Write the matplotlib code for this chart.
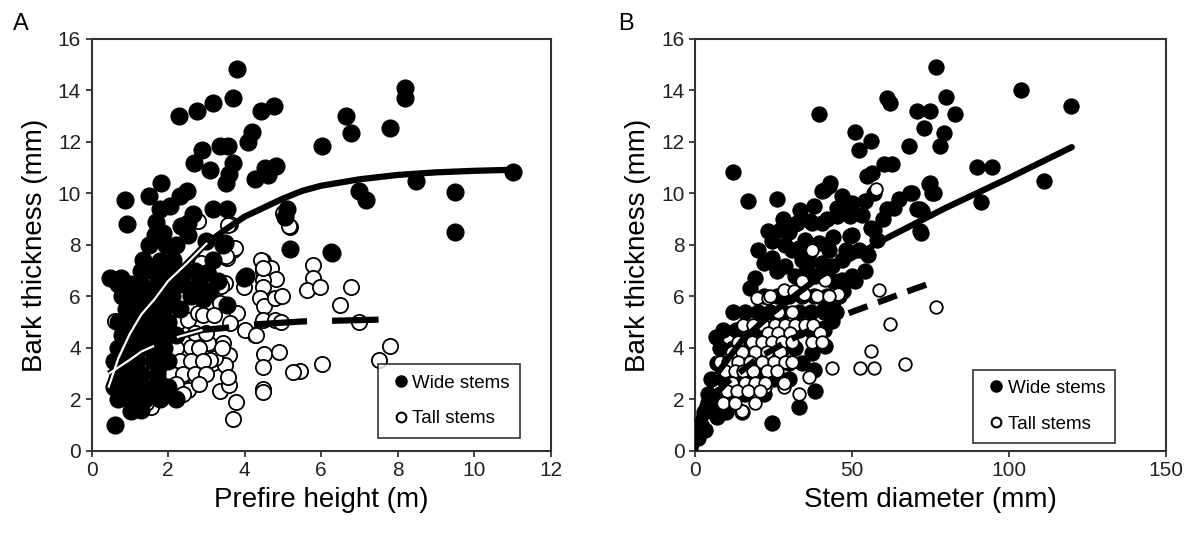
import numpy as np
import matplotlib
matplotlib.use('Agg')
import matplotlib.pyplot as plt
from matplotlib.lines import Line2D

plt.rcParams['font.family'] = ['Liberation Sans', 'DejaVu Sans']

# ---------------- Panel A: prefire height vs bark thickness ----------------
wide_a = np.array([
    [3.79, 14.85], [3.69, 13.7], [3.18, 13.5], [2.76, 13.2], [2.28, 13.0], [4.42, 13.2],
    [4.78, 13.4], [6.66, 13.0], [6.78, 12.35], [6.01, 11.85], [4.18, 12.4], [4.09, 12.0],
    [3.36, 11.85], [3.56, 11.85], [2.88, 11.7], [2.68, 11.2], [3.09, 10.9], [3.69, 11.2],
    [3.6, 10.75], [3.51, 10.4], [4.27, 10.55], [4.53, 11.0], [4.82, 11.05], [4.62, 10.7],
    [6.99, 10.1], [7.17, 9.75], [5.1, 9.4], [5.05, 9.1], [0.87, 9.75], [1.51, 9.9],
    [1.81, 10.4], [1.79, 9.4], [2.05, 9.5], [2.31, 9.9], [2.5, 10.1], [3.18, 9.4],
    [3.53, 9.4], [0.92, 8.8], [1.68, 8.9], [2.66, 9.2], [8.19, 14.1], [8.19, 13.7],
    [7.81, 12.55], [11.0, 10.85], [8.49, 10.5], [9.49, 10.05], [9.49, 8.5], [6.29, 7.7],
    [5.18, 7.85], [6.27, 7.72], [3.99, 6.72], [3.54, 5.68], [0.48, 6.7], [0.76, 6.7],
    [0.61, 1.0], [1.02, 1.55], [3.0, 8.15], [3.44, 8.0], [3.18, 7.43], [3.48, 8.08],
    [4.04, 6.79], [2.52, 8.86], [1.65, 8.4], [1.87, 8.47], [2.34, 8.73], [2.52, 8.4],
    [1.5, 8.0], [1.95, 8.0], [2.2, 8.0], [1.34, 7.43], [1.78, 7.37], [2.13, 7.43],
    [2.8, 6.5], [3.1, 6.2], [2.9, 5.9], [3.3, 6.6], [2.7, 7.0], [3.0, 6.9],
    [1.3, 7.0], [1.6, 7.0], [1.9, 7.0], [2.2, 7.0], [2.5, 7.0],
    [0.7, 6.5], [1.0, 6.5], [1.3, 6.5], [1.7, 6.5], [2.0, 6.5], [2.4, 6.5],
    [0.8, 6.0], [1.1, 6.0], [1.4, 6.0], [1.8, 6.0], [2.1, 6.0], [2.6, 6.0],
    [0.9, 5.5], [1.2, 5.5], [1.5, 5.5], [1.9, 5.5], [2.3, 5.5],
    [0.7, 5.0], [1.0, 5.0], [1.3, 5.0], [1.6, 5.0], [2.0, 5.0],
    [0.8, 4.5], [1.1, 4.5], [1.4, 4.5], [1.8, 4.5], [2.2, 4.5],
    [0.7, 4.0], [0.9, 4.0], [1.2, 4.0], [1.5, 4.0], [1.9, 4.0],
    [0.6, 3.5], [0.9, 3.5], [1.2, 3.5], [1.6, 3.5], [2.0, 3.5],
    [0.7, 3.0], [1.0, 3.0], [1.3, 3.0], [1.7, 3.0],
    [0.6, 2.5], [0.9, 2.5], [1.2, 2.5], [1.6, 2.5], [2.0, 2.5],
    [0.7, 2.0], [1.0, 2.0], [1.4, 2.0], [1.8, 2.0], [2.2, 2.0], [1.3, 1.6],
])

tall_a = np.array([
    [5.18, 8.7], [4.49, 7.39], [4.49, 6.98], [4.68, 7.11], [4.82, 6.68], [4.49, 6.65],
    [4.49, 6.37], [4.4, 5.94], [4.5, 5.64], [4.79, 5.94], [4.97, 6.0], [5.79, 7.24],
    [5.78, 6.72], [5.62, 6.24], [5.98, 6.37], [6.79, 6.37], [6.5, 5.68], [6.99, 4.99],
    [6.01, 3.39], [7.81, 4.06], [7.51, 3.54], [5.44, 3.09], [4.49, 5.07], [4.79, 5.07],
    [4.94, 4.99], [4.27, 4.51], [4.5, 3.77], [4.9, 3.86], [4.49, 3.28], [5.27, 3.05],
    [4.49, 2.4], [4.49, 2.3], [4.0, 4.7], [4.31, 4.51], [3.99, 6.37], [3.36, 5.75],
    [3.79, 5.36], [3.62, 4.97], [3.43, 4.19], [3.18, 3.41], [3.6, 3.74], [3.49, 3.35],
    [3.36, 2.31], [3.6, 2.57], [3.77, 1.92], [3.69, 1.23], [3.56, 2.89], [2.18, 2.05],
    [1.55, 1.72], [0.61, 5.03], [0.92, 5.1], [5.0, 9.25], [5.16, 8.75], [3.62, 8.8],
    [3.7, 7.82], [3.53, 7.5], [2.79, 8.92], [3.01, 6.91], [2.83, 7.3], [2.92, 6.65],
    [3.56, 8.79], [3.74, 7.89], [3.52, 7.56], [4.43, 7.43], [4.48, 7.11], [2.87, 7.3],
    [3.04, 6.91], [3.48, 6.52], [3.38, 6.4], [2.26, 5.0], [2.52, 5.1], [2.78, 5.37],
    [2.44, 4.3], [2.6, 4.05], [3.04, 4.2], [3.22, 3.6], [3.1, 3.55], [2.08, 2.76],
    [2.34, 2.65], [2.52, 2.37], [1.47, 3.27], [1.65, 3.42], [1.92, 3.8], [2.08, 3.93],
    [1.65, 2.37], [1.92, 2.49], [1.42, 1.87],
    [1.0, 5.3], [1.3, 5.3], [1.6, 5.3], [2.0, 5.3], [2.9, 5.3], [3.2, 5.3],
    [1.5, 4.6], [1.8, 4.6], [2.1, 4.6], [2.7, 4.6], [3.0, 4.6],
    [1.6, 4.0], [2.2, 4.0], [2.8, 4.0], [3.4, 4.0],
    [1.4, 3.5], [2.0, 3.5], [2.3, 3.5], [2.6, 3.5], [2.9, 3.5],
    [1.5, 3.0], [1.8, 3.0], [2.1, 3.0], [2.4, 3.0], [2.7, 3.0], [3.0, 3.0],
    [1.6, 2.6], [2.2, 2.6], [2.8, 2.6], [1.7, 2.2], [2.0, 2.2], [2.4, 2.2],
])

fit_wide_a_x = [0.45, 0.7, 1.0, 1.3, 1.65, 2.0, 2.5, 3.0, 3.5, 4.0, 4.5, 5.0, 5.5, 6.0, 7.0, 8.0, 9.0, 10.0, 11.0]
fit_wide_a_y = [2.5, 3.6, 4.55, 5.3, 5.9, 6.6, 7.3, 8.05, 8.6, 9.1, 9.45, 9.8, 10.1, 10.3, 10.55, 10.72, 10.82, 10.88, 10.92]
fit_tall_a_x = [0.45, 1.0, 1.3, 2.0, 2.9, 3.5, 4.1, 5.5, 7.5]
fit_tall_a_y = [3.0, 3.54, 3.86, 4.32, 4.7, 4.78, 4.9, 5.03, 5.1]

# ---------------- Panel B: stem diameter vs bark thickness ----------------
wide_b = np.array([
    [12.2, 10.83], [17.0, 9.7], [26.1, 9.8], [39.4, 13.07], [51.1, 12.4], [55.9, 12.03],
    [52.1, 11.7], [61.2, 13.7], [62.2, 13.5], [68.1, 11.84], [72.9, 12.55], [70.8, 13.2],
    [75.0, 13.2], [76.6, 14.9], [56.4, 10.8], [54.8, 10.67], [60.1, 11.13], [62.8, 11.13],
    [43.1, 10.4], [41.0, 10.15], [46.8, 9.9], [47.3, 9.57], [33.3, 9.35], [32.5, 8.86],
    [45.2, 9.12], [49.5, 9.12], [54.3, 9.7], [56.9, 10.03], [61.2, 9.38], [63.3, 9.44],
    [68.6, 10.03], [74.5, 10.35], [75.5, 10.03], [71.8, 9.38], [23.4, 8.53], [36.7, 8.92],
    [40.4, 8.86], [45.2, 9.44], [50.0, 8.4], [56.9, 8.6], [71.8, 8.53], [80.0, 13.75],
    [82.7, 13.07], [79.3, 12.36], [78.0, 11.84], [103.7, 14.0], [119.9, 13.4], [89.7, 11.04],
    [94.7, 11.04], [111.0, 10.48], [69.2, 10.03], [75.0, 10.39], [76.1, 10.0], [91.0, 9.68],
    [70.8, 9.4], [72.4, 9.31], [72.0, 8.47], [42.6, 10.3], [40.4, 10.1], [31.9, 8.8],
    [24.5, 8.14], [28.7, 8.0], [37.2, 8.86], [50.0, 9.64], [46.8, 9.31], [49.5, 8.34],
    [53.2, 9.18], [55.9, 8.67], [24.5, 7.5], [30.9, 7.82], [34.0, 7.43], [36.2, 7.69],
    [39.4, 8.08], [42.6, 7.82], [40.4, 7.3], [43.6, 7.17], [46.8, 7.43], [52.1, 7.82],
    [19.2, 6.72], [17.6, 6.33], [28.7, 7.17], [31.9, 6.78], [35.1, 6.91], [38.3, 6.78],
    [46.8, 6.65], [50.0, 6.78], [6.6, 4.42], [24.5, 1.08], [33.0, 1.72], [38.3, 2.31],
    [37.2, 3.8], [37.8, 3.15], [41.5, 4.06], [43.6, 5.03], [3.2, 0.82], [6.9, 1.33],
    [4.8, 1.86], [47.0, 6.2], [51.0, 6.6], [54.0, 7.0], [44.0, 5.8], [41.0, 5.5],
    [28.0, 9.0], [30.0, 8.5], [35.0, 8.2], [38.0, 9.5], [42.0, 9.0], [44.0, 8.3],
    [48.0, 7.8], [33.0, 7.9], [26.0, 7.0], [22.0, 7.3], [20.0, 7.8], [27.0, 8.6],
    [36.0, 7.3], [44.0, 6.6], [55.0, 7.6], [58.0, 8.2], [60.0, 9.0], [65.0, 9.8],
    [22, 6.0], [26, 6.0], [30, 6.0], [34, 6.0], [38, 6.0], [42, 6.0], [46, 6.0],
    [12, 5.4], [16, 5.4], [20, 5.4], [24, 5.4], [28, 5.4], [33, 5.4], [37, 5.4], [41, 5.4], [45, 5.4],
    [9, 4.7], [13, 4.7], [17, 4.7], [21, 4.7], [25, 4.7], [29, 4.7], [33, 4.7], [37, 4.7], [41, 4.7],
    [8, 4.0], [12, 4.0], [16, 4.0], [20, 4.0], [24, 4.0], [28, 4.0], [32, 4.0],
    [7, 3.4], [10, 3.4], [14, 3.4], [18, 3.4], [22, 3.4], [26, 3.4], [30, 3.4], [34, 3.4],
    [5, 2.8], [9, 2.8], [13, 2.8], [17, 2.8], [21, 2.8], [25, 2.8], [30, 2.8],
    [4, 2.2], [8, 2.2], [12, 2.2], [16, 2.2], [22, 2.2],
    [3, 1.5], [6, 1.5], [10, 1.5], [15, 1.5], [2, 1.0], [1, 0.5],
])

tall_b = np.array([
    [57.5, 10.16], [58.5, 6.26], [76.6, 5.59], [62.0, 4.93], [56.1, 3.89], [52.4, 3.22],
    [57.1, 3.22], [67.0, 3.39], [43.6, 3.22], [37.2, 7.8], [28.2, 6.26], [31.4, 6.2],
    [34.1, 6.59], [34.6, 6.11], [41.5, 6.63], [45.7, 6.11], [19.7, 5.94], [23.4, 5.94],
    [33.0, 2.22], [36.2, 2.87], [28.2, 2.5], [14.9, 1.57], [19.2, 1.86], [22.3, 2.5],
    [23.9, 6.0], [38.8, 6.0], [42.6, 6.0], [26.5, 5.4], [31.0, 5.4],
    [15.3, 4.9], [18.5, 4.9], [21.7, 4.9], [25.5, 4.9], [28.7, 4.9], [31.9, 4.9], [35.1, 4.9], [37.7, 4.9],
    [23.4, 4.6], [26.5, 4.6], [30.3, 4.6], [39.9, 4.6],
    [13.7, 4.25], [18.2, 4.25], [21.4, 4.25], [24.6, 4.25], [27.8, 4.25], [31.0, 4.25], [37.3, 4.25], [40.5, 4.25],
    [11.7, 3.86], [14.9, 3.86], [19.2, 3.86], [22.9, 3.86], [27.1, 3.86],
    [8.0, 3.47], [10.6, 3.47], [13.8, 3.47], [17.6, 3.47], [21.3, 3.47], [25.0, 3.47], [28.7, 3.47], [30.9, 3.47],
    [9.6, 3.09], [12.8, 3.09], [15.4, 3.09], [18.6, 3.09], [22.9, 3.09], [26.1, 3.09],
    [11.7, 2.63], [16.0, 2.63], [19.2, 2.63], [22.3, 2.63], [28.2, 2.63],
    [10.1, 2.31], [13.3, 2.31], [17.0, 2.31], [20.7, 2.31], [9.0, 1.86], [12.8, 1.86],
])

fit_wide_b_x = [0, 1, 3, 7, 15, 25, 40, 60, 80, 100, 120]
fit_wide_b_y = [0, 1.2, 2.0, 3.0, 4.3, 5.4, 6.8, 8.2, 9.45, 10.6, 11.8]
fit_tall_b_x = [0, 2, 5, 10, 20, 30, 40, 50, 60, 70, 77]
fit_tall_b_y = [0, 1.3, 2.0, 2.65, 3.6, 4.3, 4.9, 5.4, 5.85, 6.3, 6.6]

fig = plt.figure(figsize=(11.95, 5.39), dpi=100)
axA = fig.add_axes([0.0766, 0.1633, 0.3843, 0.7644])
axB = fig.add_axes([0.5816, 0.1633, 0.3941, 0.7644])

# panel A points: open first, filled on top
axA.scatter(tall_a[:, 0], tall_a[:, 1], s=120, facecolor='white', edgecolor='black', linewidth=1.3, zorder=2)
axA.scatter(wide_a[:, 0], wide_a[:, 1], s=150, facecolor='black', edgecolor='black', linewidth=0.8, zorder=3)

# fitted curves, white centre where they cross the dense cloud
axA.plot(fit_wide_a_x, fit_wide_a_y, color='black', lw=4.5, solid_capstyle='round', zorder=5)
n_w = 8
axA.plot(fit_wide_a_x[:n_w], fit_wide_a_y[:n_w], color='white', lw=1.6, zorder=6)
axA.plot(fit_tall_a_x, fit_tall_a_y, color='black', lw=4.5, linestyle=(0, (8.5, 4.0)), zorder=5)
n_t = 5
axA.plot(fit_tall_a_x[:n_t], fit_tall_a_y[:n_t], color='white', lw=1.6, linestyle=(0, (24, 11)), zorder=6)

# panel B points: filled first, open on top
axB.scatter(wide_b[:, 0], wide_b[:, 1], s=120, facecolor='black', edgecolor='black', linewidth=0.8, zorder=2)
axB.scatter(tall_b[:, 0], tall_b[:, 1], s=82, facecolor='white', edgecolor='black', linewidth=1.3, zorder=3)
axB.plot(fit_wide_b_x, fit_wide_b_y, color='black', lw=4.5, solid_capstyle='round', zorder=5)
axB.plot(fit_tall_b_x, fit_tall_b_y, color='black', lw=4.5, linestyle=(0, (3.2, 1.8)), zorder=5)

for ax in (axA, axB):
    ax.set_ylim(0, 16)
    ax.set_yticks(range(0, 17, 2))
    ax.tick_params(direction='out', length=4, width=1.2, labelsize=15, colors='#222222')
    for sp in ax.spines.values():
        sp.set_linewidth(1.5)
        sp.set_color('#333333')
    ax.set_ylabel('Bark thickness (mm)', fontsize=20, labelpad=7)
    handles = [
        Line2D([], [], marker='o', linestyle='none', markersize=8, markerfacecolor='black', markeredgecolor='black'),
        Line2D([], [], marker='o', linestyle='none', markersize=7, markerfacecolor='white', markeredgecolor='black', markeredgewidth=1.5),
    ]
    leg = ax.legend(handles, ['Wide stems', 'Tall stems'], fontsize=13.5, frameon=True, fancybox=False,
                    edgecolor='black', handlelength=1.4, handletextpad=-0.1, labelspacing=1.0,
                    borderpad=0.55, borderaxespad=0, loc='lower left')
    leg.get_frame().set_linewidth(1.2)

axA.set_xlim(0, 12)
axA.set_xticks(range(0, 13, 2))
axA.set_xlabel('Prefire height (m)', fontsize=20, labelpad=5)
axA.get_legend().set_bbox_to_anchor((0.623, 0.032))

axB.set_xlim(0, 150)
axB.set_xticks([0, 50, 100, 150])
axB.set_xlabel('Stem diameter (mm)', fontsize=20, labelpad=5)
axB.get_legend().set_bbox_to_anchor((0.59, 0.019))

fig.text(0.011, 0.945, 'A', fontsize=17)
fig.text(0.517, 0.945, 'B', fontsize=17)

fig.savefig('out.png', dpi=100)
